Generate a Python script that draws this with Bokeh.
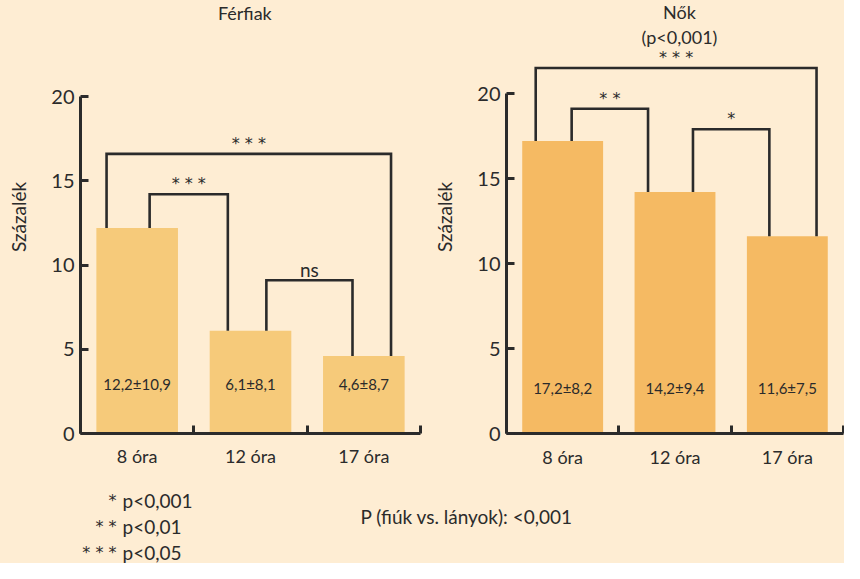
import numpy as np
from bokeh.plotting import figure
from bokeh.layouts import row, column
from bokeh.models import Range1d, FixedTicker
from bokeh.embed import file_html
from bokeh.resources import INLINE
from bokeh.core.properties import value

# ---- data ----
categories = ["8 óra", "12 óra", "17 óra"]
men_values = [12.2, 6.1, 4.6]
men_labels = ["12,2±10,9", "6,1±8,1", "4,6±8,7"]
women_values = [17.2, 14.2, 11.6]
women_labels = ["17,2±8,2", "14,2±9,4", "11,6±7,5"]
y_ticks = [0, 5, 10, 15, 20]
men_brackets = [(0, 2, 16.6, "* * *"), (0, 1, 14.2, "* * *"), (1, 2, 9.1, "ns")]
women_brackets = [(0, 2, 21.5, "* * *"), (0, 1, 19.1, "* *"), (1, 2, 17.9, "*")]
legend_stars = ["*", "* *", "* * *"]
legend_p = ["p<0,001", "p<0,01", "p<0,05"]
comparison_note = "P (fiúk vs. lányok): <0,001"

# ---- style ----
BG = "#FEEDD3"
INK = "#2b2b2b"
FONT = "Lato"
STAR_FONT = "DejaVu Sans"
PX_PER_UNIT = 17.0
ROW_H = 490


def panel(values, labels, brackets, leg_offsets, color, width, b_left, b_right,
          b_bottom, title_lines, title_x, title_ys, label_y, x_std, y_std):
    frame_h = ROW_H - b_bottom
    p = figure(width=width, height=ROW_H, x_range=Range1d(0, len(categories)),
               y_range=Range1d(0, frame_h / PX_PER_UNIT), title=None,
               output_backend="svg", toolbar_location=None,
               min_border_left=b_left, min_border_right=b_right,
               min_border_top=0, min_border_bottom=b_bottom,
               styles={"background-color": BG})
    p.background_fill_color = BG
    p.border_fill_color = BG
    p.outline_line_color = None
    p.grid.visible = False

    centers = np.arange(len(categories)) + 0.5
    p.vbar(x=centers, top=values, bottom=0, width=0.72, fill_color=color,
           line_color=None)

    p.text(x=centers, y=[label_y] * len(centers), text=labels, text_align="center",
           text_baseline="middle", text_font=value(FONT), text_font_size="15px",
           text_color=INK)

    xs, ys = [], []
    sx, sy, st = [], [], []
    nx, ny, nt = [], [], []
    for (i, j, h, lab), (oi, oj) in zip(brackets, leg_offsets):
        x0 = centers[i] + oi
        x1 = centers[j] + oj
        xs.append([x0, x0, x1, x1])
        ys.append([values[i], h, h, values[j]])
        if "*" in lab:
            sx.append((x0 + x1) / 2); sy.append(h + 0.62); st.append(lab)
        else:
            nx.append((x0 + x1) / 2); ny.append(h + 0.62); nt.append(lab)
    p.multi_line(xs=xs, ys=ys, line_color=INK, line_width=2.6, line_join="miter")
    p.text(x=sx, y=sy, text=st, text_align="center", text_baseline="alphabetic",
           text_font=value(STAR_FONT), text_font_size="16px", text_color=INK)
    if nt:
        p.text(x=nx, y=ny, text=nt, text_align="center", text_baseline="alphabetic",
               text_font=value(FONT), text_font_size="19px", text_color=INK)

    p.text(x=[title_x] * len(title_lines), y=title_ys, text=title_lines,
           text_align="center", text_baseline="middle", text_font=value(FONT),
           text_font_size="18px", text_color=INK)

    ya = p.yaxis[0]
    ya.ticker = FixedTicker(ticks=y_ticks)
    ya.bounds = (0, 20)
    ya.axis_line_width = 3
    ya.axis_line_color = INK
    ya.major_tick_line_width = 3
    ya.major_tick_line_color = INK
    ya.major_tick_in = 8
    ya.major_tick_out = 0
    ya.minor_tick_line_color = None
    ya.major_label_standoff = 6
    ya.major_label_text_font = FONT
    ya.major_label_text_font_size = "20px"
    ya.major_label_text_color = INK
    ya.axis_label = "Százalék"
    ya.axis_label_standoff = y_std
    ya.axis_label_text_font = FONT
    ya.axis_label_text_font_style = "normal"
    ya.axis_label_text_font_size = "19px"
    ya.axis_label_text_color = INK

    xa = p.xaxis[0]
    xa.ticker = FixedTicker(ticks=list(centers),
                            minor_ticks=list(range(len(categories) + 1)))
    xa.major_label_overrides = {float(c): cat for c, cat in zip(centers, categories)}
    xa.axis_line_width = 3
    xa.axis_line_color = INK
    xa.major_tick_line_color = None
    xa.minor_tick_line_color = INK
    xa.minor_tick_line_width = 3
    xa.minor_tick_in = 8
    xa.minor_tick_out = 0
    xa.major_label_standoff = x_std
    xa.major_label_text_font = FONT
    xa.major_label_text_font_size = "18px"
    xa.major_label_text_color = INK
    return p


left = panel(men_values, men_labels, men_brackets,
             [(-0.27, 0.24), (0.11, -0.20), (0.14, -0.10)],
             "#F6CA7A", 430, 80, 10, 53,
             ["Férfiak"], 1.45, [24.95], 2.95, 5, 18)
right = panel(women_values, women_labels, women_brackets,
              [(-0.24, 0.26), (0.08, -0.24), (0.16, -0.16)],
              "#F5BA63", 414, 73, 1, 57,
              ["Nők", "(p<0,001)"], 1.54, [24.8, 23.35], 2.7, 6, 18)

bottom = figure(width=844, height=73, x_range=Range1d(0, 844), y_range=Range1d(73, 0),
                title=None, output_backend="svg", toolbar_location=None,
                x_axis_location=None, y_axis_location=None,
                min_border_left=0, min_border_right=0, min_border_top=0,
                min_border_bottom=0, styles={"background-color": BG})
bottom.background_fill_color = BG
bottom.border_fill_color = BG
bottom.outline_line_color = None
bottom.grid.visible = False
rows_y = [10 + 26 * k for k in range(len(legend_p))]
bottom.text(x=[116] * len(legend_stars), y=rows_y, text=legend_stars, text_align="right",
            text_baseline="middle", text_font=value(STAR_FONT), text_font_size="16px",
            text_color=INK)
bottom.text(x=[122] * len(legend_p), y=rows_y, text=legend_p, text_align="left",
            text_baseline="middle", text_font=value(FONT), text_font_size="19px",
            text_color=INK)
bottom.text(x=[360], y=[26], text=[comparison_note], text_align="left",
            text_baseline="middle", text_font=value(FONT), text_font_size="19px",
            text_color=INK)

layout = column(row(left, right, styles={"background-color": BG}), bottom,
                styles={"background-color": BG})
open("out.html", "w").write(file_html(layout, INLINE))
